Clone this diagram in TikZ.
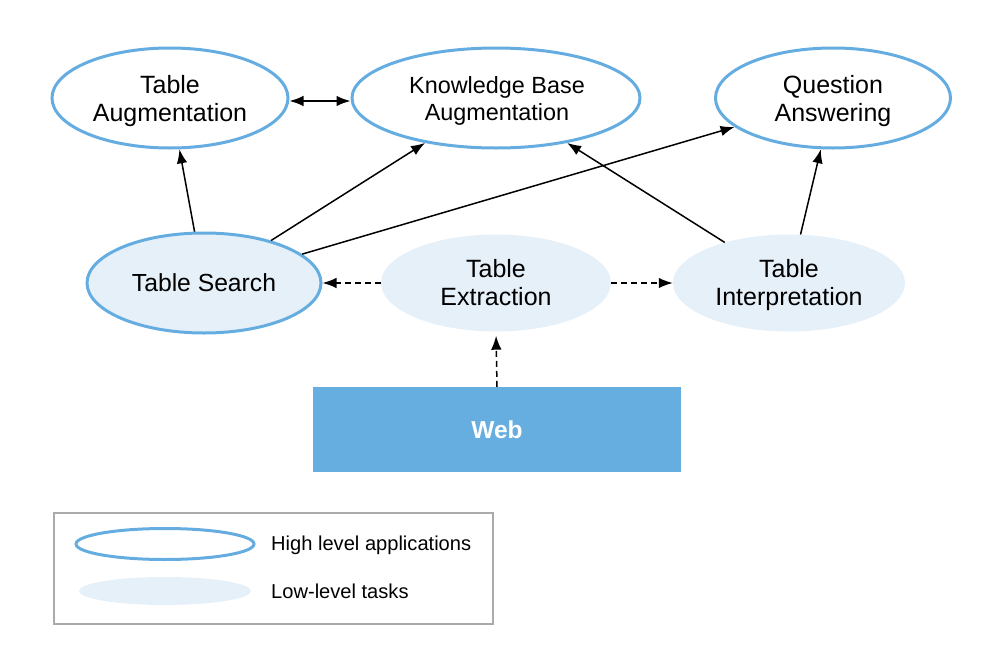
\documentclass[tikz,border=0pt]{standalone}
\usepackage{fontspec}
\setmainfont{Liberation Sans}
\usetikzlibrary{shapes.geometric,arrows.meta}
\definecolor{bordblue}{HTML}{65ADE0}
\definecolor{lightblue}{HTML}{E6F0F9}
\definecolor{webblue}{HTML}{67AEE0}
\definecolor{legendgray}{HTML}{AAAAAA}
\tikzset{
  hiapp/.style={ellipse, draw=bordblue, line width=3pt, fill=white, inner sep=0pt},
  lowtask/.style={ellipse, fill=lightblue, inner sep=0pt},
  lbl/.style={inner sep=0pt, align=center, font=\fontsize{25}{28}\selectfont},
  arr/.style={-{Latex[length=14pt,width=10.5pt]}, line width=1.5pt, black},
  darr/.style={arr, dash pattern=on 6pt off 4pt},
}
\begin{document}
\begin{tikzpicture}[x=1pt,y=-1pt]
\useasboundingbox (0,0) rectangle (994,645);
% high level
\node[hiapp, minimum width=236pt, minimum height=100pt] (ta) at (170,98) {};
\node[lbl] (tat) at (170,101) {Table\\Augmentation};
\node[hiapp, minimum width=288pt, minimum height=100pt] (kb) at (496,98) {};
\node[lbl, font=\fontsize{23.4}{27}\selectfont] (kbt) at (497,101) {Knowledge Base\\Augmentation};
\node[hiapp, minimum width=235pt, minimum height=100pt] (qa) at (833,98) {};
\node[lbl] (qat) at (833,101) {Question\\Answering};
% low level
\node[hiapp, fill=lightblue, minimum width=234pt, minimum height=100pt] (ts) at (204,283) {};
\node[lbl, font=\fontsize{24.7}{28}\selectfont] (tst) at (204,283) {Table Search};
\node[lowtask, minimum width=230pt, minimum height=97pt] (te) at (496,283) {};
\node[lbl] (tet) at (496,283) {Table\\Extraction};
\node[lowtask, minimum width=232pt, minimum height=97pt] (ti) at (789,283) {};
\node[lbl] (tit) at (789,285) {Table\\Interpretation};
% web
\node[rectangle, fill=webblue, minimum width=368pt, minimum height=85pt, inner sep=0pt, text=white, font=\fontsize{24.5}{28}\selectfont\bfseries] (web) at (497,429.5) {Web};
% arrows
\draw[arr, {Latex[length=14pt,width=10.5pt]}-{Latex[length=14pt,width=10.5pt]}] ([yshift=-3pt]ta.east) -- ([yshift=-3pt]kb.west);
\draw[arr] (ts) -- (ta);
\draw[arr] (ts) -- (kb);
\draw[arr] (ts) -- (qa);
\draw[arr] (ti) -- (kb);
\draw[arr] (ti) -- (qa);
\draw[darr] (te) -- (ts);
\draw[darr] (te) -- (ti);
\draw[darr, shorten >=4pt] (web.north) -- (te.south);
% legend
\node[draw=legendgray, line width=1.5pt, minimum width=439pt, minimum height=111pt, inner sep=0pt] (legend) at (273.5,568.5) {};
\node[ellipse, draw=bordblue, line width=3pt, minimum width=178pt, minimum height=31pt, inner sep=0pt] (lhi) at (165,544) {};
\node[ellipse, fill=lightblue, minimum width=172pt, minimum height=28pt, inner sep=0pt] (llo) at (165,591) {};
\node[anchor=west, inner sep=0pt, font=\fontsize{20.1}{23}\selectfont] (lhit) at (271,545) {High level applications};
\node[anchor=west, inner sep=0pt, font=\fontsize{20.1}{23}\selectfont] (llot) at (271,591) {Low-level tasks};
\end{tikzpicture}
\end{document}
